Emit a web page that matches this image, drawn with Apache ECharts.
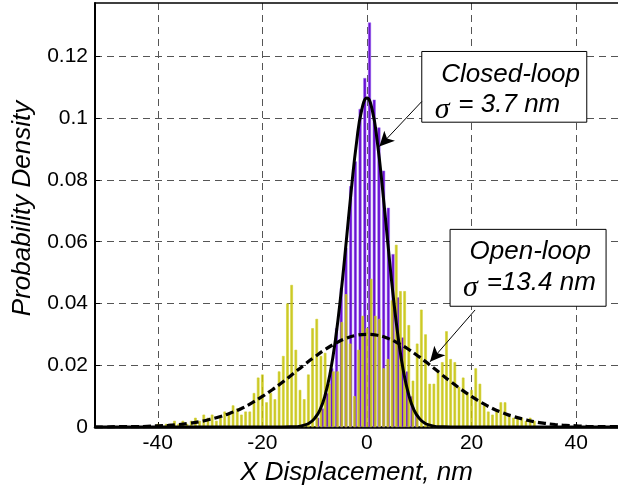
<!DOCTYPE html>
<html><head><meta charset="utf-8">
<script src="https://cdn.jsdelivr.net/npm/echarts@6/dist/echarts.min.js"></script>
<style>html,body{margin:0;padding:0;background:#fff}#c{width:618px;height:494px}</style>
</head><body><div id="c"></div>
<script>
// ---- data ----
const xTicks = [-40, -20, 0, 20, 40];
const yTicks = [0, 0.02, 0.04, 0.06, 0.08, 0.1, 0.12];

// closed-loop histogram (bin centers, nm) and densities
const closedCenters = [-9.45, -8.55, -7.65, -6.75, -5.85, -4.95, -4.05, -3.15, -2.25, -1.35, -0.45,
  0.45, 1.35, 2.25, 3.15, 4.05, 4.95, 5.85, 6.75, 7.65, 8.55, 9.45];
const closedDensity = [0.003, 0.006, 0.011, 0.019, 0.032, 0.045, 0.058, 0.078, 0.086, 0.103, 0.113,
  0.131, 0.106, 0.097, 0.083, 0.071, 0.056, 0.042, 0.029, 0.018, 0.010, 0.005];

// open-loop histogram (bin centers, nm) and densities
const openCenters = [-40.0, -39.2, -38.4, -37.6, -36.8, -36.0, -35.2, -34.4, -33.6, -32.8, -32.0, -31.2,
  -30.4, -29.6, -28.8, -28.0, -27.2, -26.4, -25.6, -24.8, -24.0, -23.2, -22.4, -21.6, -20.8, -20.0,
  -19.2, -18.4, -17.6, -16.8, -16.0, -15.2, -14.4, -13.6, -12.8, -12.0, -11.2, -10.4, -9.6, -8.8,
  -8.0, -7.2, -6.4, -5.6, -4.8, -4.0, -3.2, -2.4, -1.6, -0.8, 0.0, 0.8, 1.6, 2.4, 3.2, 4.0, 4.8,
  5.6, 6.4, 7.2, 8.0, 8.8, 9.6, 10.4, 11.2, 12.0, 12.8, 13.6, 14.4, 15.2, 16.0, 16.8, 17.6, 18.4,
  19.2, 20.0, 20.8, 21.6, 22.4, 23.2, 24.0, 24.8, 25.6, 26.4, 27.2, 28.0, 28.8, 29.6, 30.4, 31.2, 32.0];
const openDensity = [0.001, 0.000, 0.001, 0.001, 0.002, 0.001, 0.002, 0.001, 0.002, 0.003, 0.002, 0.004,
  0.003, 0.004, 0.002, 0.003, 0.005, 0.004, 0.007, 0.006, 0.004, 0.005, 0.005, 0.011, 0.016, 0.017,
  0.008, 0.011, 0.009, 0.018, 0.023, 0.040, 0.046, 0.025, 0.012, 0.009, 0.017, 0.032, 0.035, 0.023,
  0.024, 0.014, 0.018, 0.018, 0.034, 0.043, 0.027, 0.010, 0.025, 0.036, 0.032, 0.048, 0.036, 0.035,
  0.019, 0.022, 0.041, 0.059, 0.044, 0.044, 0.033, 0.015, 0.027, 0.038, 0.030, 0.014, 0.014, 0.018,
  0.021, 0.031, 0.022, 0.021, 0.013, 0.016, 0.011, 0.012, 0.019, 0.014, 0.007, 0.005, 0.004, 0.005,
  0.008, 0.008, 0.004, 0.003, 0.003, 0.003, 0.002, 0.003, 0.002];

// fitted curves
const closedFitX = [-52, -16, -14, -13, -12, -11, -10, -9, -8, -7, -6, -5, -4, -3, -2, -1, 0,
  1, 2, 3, 4, 5, 6, 7, 8, 9, 10, 11, 12, 13, 14, 16, 48];
const closedFitY = [0, 0, 0.0001, 0.0002, 0.0006, 0.0013, 0.0028, 0.0055, 0.0103, 0.0178, 0.0286, 0.0427,
  0.0594, 0.0767, 0.0920, 0.1027, 0.1065, 0.1027, 0.0920, 0.0767, 0.0594, 0.0427, 0.0286, 0.0178,
  0.0103, 0.0055, 0.0028, 0.0013, 0.0006, 0.0002, 0.0001, 0, 0];
const openFitX = [-52, -50, -48, -46, -44, -42, -40, -38, -36, -34, -32, -30, -28, -26, -24, -22, -20,
  -18, -16, -14, -12, -10, -8, -6, -4, -2, 0, 2, 4, 6, 8, 10, 12, 14, 16, 18, 20, 22, 24, 26, 28,
  30, 32, 34, 36, 38, 40, 42, 44, 46, 48];
const openFitY = [0, 0, 0.0001, 0.0001, 0.0001, 0.0002, 0.0004, 0.0005, 0.0008, 0.0012, 0.0017, 0.0025,
  0.0034, 0.0046, 0.0060, 0.0078, 0.0099, 0.0122, 0.0147, 0.0174, 0.0201, 0.0227, 0.0251, 0.0271,
  0.0287, 0.0297, 0.0300, 0.0297, 0.0287, 0.0271, 0.0251, 0.0227, 0.0201, 0.0174, 0.0147, 0.0122,
  0.0099, 0.0078, 0.0060, 0.0046, 0.0034, 0.0025, 0.0017, 0.0012, 0.0008, 0.0005, 0.0004, 0.0002,
  0.0001, 0.0001, 0.0001];

const xTitle = 'X Displacement, nm';
const yTitle = 'Probability Density';
const notes = [
  {title: 'Closed-loop', value: '= 3.7 nm', box: [10.48, 0.1216, 42.03, 0.0987], arrow: [[10.48, 0.1054], [2.37, 0.0908]]},
  {title: 'Open-loop', value: '=13.4 nm', box: [15.89, 0.0640, 45.72, 0.0391], arrow: [[20.67, 0.0379], [12.06, 0.0211]]}
];

// ---- chart ----
const FONT = '"Liberation Sans", Arial, sans-serif';
const zip = (a, b) => a.map((v, i) => [v, b[i]]);
const chart = echarts.init(document.getElementById('c'), null, {renderer: 'canvas'});

const option = {
  animation: false,
  backgroundColor: '#fff',
  grid: {left: 95, right: 0, top: 3, bottom: 67, containLabel: false, outerBoundsMode: 'none'},
  xAxis: [{
    type: 'value', min: -52, max: 48, splitNumber: 5, position: 'bottom',
    axisLine: {onZero: false, lineStyle: {color: '#000', width: 2.5}},
    axisTick: {show: true, inside: true, length: 5, lineStyle: {color: '#000'}},
    axisLabel: {color: '#000', fontSize: 21, fontFamily: FONT, margin: 6, showMinLabel: false, showMaxLabel: false,
      formatter: v => xTicks.includes(Math.round(v)) && Math.abs(v - Math.round(v)) < 1e-9 ? String(Math.round(v)) : ''},
    splitLine: {show: true, showMinLine: false, showMaxLine: false, lineStyle: {color: '#555', type: [7, 5], width: 1}},
    name: xTitle, nameLocation: 'middle', nameGap: 33,
    nameTextStyle: {color: '#000', fontSize: 26, fontStyle: 'italic', fontFamily: FONT}
  }, {
    type: 'value', min: -52, max: 48, position: 'top',
    axisLine: {onZero: false, lineStyle: {color: '#000', width: 1.5}},
    axisTick: {show: false}, axisLabel: {show: false}, splitLine: {show: false}
  }],
  yAxis: [{
    type: 'value', min: 0, max: 0.1373, interval: 0.02,
    axisLine: {onZero: false, lineStyle: {color: '#000', width: 2}},
    axisTick: {show: true, inside: true, length: 5, lineStyle: {color: '#000'}},
    axisLabel: {color: '#000', fontSize: 21, fontFamily: FONT, margin: 7, showMaxLabel: false,
      formatter: v => { const r = Math.round(v * 100) / 100; return yTicks.includes(r) && Math.abs(r - v) < 1e-9 ? String(r) : ''; }},
    splitLine: {show: true, showMinLine: false, showMaxLine: false, lineStyle: {color: '#555', type: [7, 5], width: 1}},
    name: yTitle, nameLocation: 'middle', nameGap: 58, nameRotate: 90,
    nameTextStyle: {color: '#000', fontSize: 26, fontStyle: 'italic', fontFamily: FONT, padding: [0, 0, 0, 13]}
  }],
  series: [{
    type: 'bar', name: 'closed', data: zip(closedCenters, closedDensity), barWidth: 3, barGap: '-100%',
    itemStyle: {color: '#6a10d2', borderColor: '#9a6cf0', borderWidth: 0.5}, z: 2, silent: true
  }, {
    type: 'bar', name: 'open', data: zip(openCenters, openDensity), barWidth: 2.6, barGap: '-100%',
    itemStyle: {color: 'rgba(196,192,0,0.85)', borderColor: 'rgba(205,205,40,0.95)', borderWidth: 0.6}, z: 3, silent: true
  }, {
    type: 'line', name: 'closedFit', data: zip(closedFitX, closedFitY), smooth: true, showSymbol: false,
    lineStyle: {color: '#000', width: 3}, z: 5, silent: true,
    markLine: {
      silent: true, symbol: ['none', 'arrow'], symbolSize: [11, 15], animation: false,
      label: {show: false}, lineStyle: {color: '#000', width: 1, type: 'solid'},
      data: notes.map(n => [{coord: n.arrow[0]}, {coord: n.arrow[1]}])
    }
  }, {
    type: 'line', name: 'openFit', data: zip(openFitX, openFitY), smooth: true, showSymbol: false,
    lineStyle: {color: '#000', width: 3.2, type: [8, 4]}, z: 5, silent: true
  }]
};
chart.setOption(option);

// annotation boxes placed in data coordinates
const graphics = notes.map(n => {
  const p1 = chart.convertToPixel({xAxisIndex: 0, yAxisIndex: 0}, [n.box[0], n.box[1]]);
  const p2 = chart.convertToPixel({xAxisIndex: 0, yAxisIndex: 0}, [n.box[2], n.box[3]]);
  const fs = 26;
  const mid = b => b - 0.35 * fs;
  return {
    type: 'group', x: p1[0], y: p1[1], z: 100,
    children: [
      {type: 'rect', shape: {x: 0, y: 0, width: p2[0] - p1[0], height: p2[1] - p1[1]},
        style: {fill: '#fff', stroke: '#000', lineWidth: 1}},
      {type: 'text', x: 19.5, y: mid(32), style: {text: n.title, font: 'italic 26px ' + FONT, fill: '#000', verticalAlign: 'middle'}},
      {type: 'text', x: 13, y: 69 - 0.35 * 30, style: {text: 'σ', font: 'italic 30px "Liberation Serif", serif', fill: '#000', verticalAlign: 'middle'}},
      {type: 'text', x: 36.6, y: mid(62.4), style: {text: n.value, font: 'italic 26px ' + FONT, fill: '#000', verticalAlign: 'middle'}}
    ]
  };
});
chart.setOption({graphic: graphics});
</script>
</body></html>
